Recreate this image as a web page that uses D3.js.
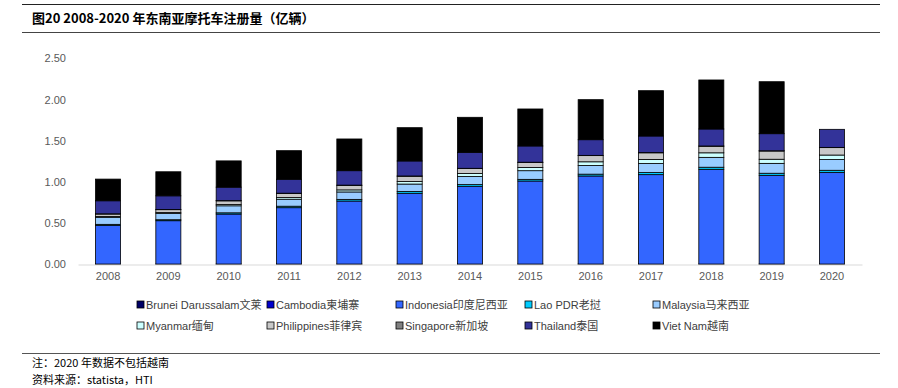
<!DOCTYPE html>
<html>
<head>
<meta charset="utf-8">
<script src="https://cdn.jsdelivr.net/npm/d3@7"></script>
<style>
  body { margin: 0; background: #fff; }
  svg { display: block; }
</style>
</head>
<body>
<div id="chart"></div>
<script>
// data (unit: 亿辆)
const years = ['2008','2009','2010','2011','2012','2013','2014','2015','2016','2017','2018','2019','2020'];
const countries = ['Brunei Darussalam文莱','Cambodia柬埔寨','Indonesia印度尼西亚','Lao PDR老挝','Malaysia马来西亚',
  'Myanmar缅甸','Philippines菲律宾','Singapore新加坡','Thailand泰国','Viet Nam越南'];
const colors = ['#000066','#0000cc','#3366ff','#00ccff','#99ccff','#ccffff','#c8c8c8','#808080','#333399','#000000'];

const brunei      = [0.001,0.001,0.001,0.001,0.001,0.001,0.001,0.001,0.001,0.001,0.001,0.001,0.001];
const cambodia    = [0.002,0.002,0.002,0.002,0.002,0.002,0.002,0.002,0.002,0.002,0.002,0.002,0.002];
const indonesia   = [0.470,0.526,0.607,0.684,0.765,0.859,0.944,1.008,1.069,1.085,1.150,1.077,1.113];
const lao         = [0.012,0.012,0.015,0.018,0.020,0.022,0.020,0.020,0.022,0.025,0.025,0.025,0.025];
const malaysia    = [0.085,0.075,0.085,0.085,0.090,0.090,0.100,0.105,0.105,0.110,0.120,0.120,0.130];
const myanmar     = [0.010,0.012,0.015,0.020,0.025,0.030,0.035,0.040,0.045,0.050,0.055,0.050,0.055];
const philippines = [0.030,0.035,0.045,0.050,0.055,0.065,0.060,0.060,0.075,0.080,0.080,0.100,0.090];
const singapore   = [0.003,0.003,0.003,0.003,0.003,0.003,0.003,0.003,0.003,0.003,0.003,0.003,0.003];
const thailand    = [0.158,0.165,0.163,0.169,0.175,0.182,0.194,0.197,0.190,0.201,0.206,0.207,0.219];
const vietnam     = [0.263,0.292,0.319,0.347,0.385,0.404,0.425,0.449,0.486,0.550,0.595,0.631,0];
const yTicks = [0, 0.5, 1, 1.5, 2, 2.5];

const series = [brunei, cambodia, indonesia, lao, malaysia, myanmar, philippines, singapore, thailand, vietnam];

const width = 898, height = 388;
const svg = d3.select('#chart').append('svg')
  .attr('width', width)
  .attr('height', height);

// title with rules
svg.append('line').attr('x1', 22).attr('x2', 880).attr('y1', 4.5).attr('y2', 4.5)
  .attr('stroke', '#222').attr('stroke-width', 1);
svg.append('line').attr('x1', 22).attr('x2', 880).attr('y1', 32.5).attr('y2', 32.5)
  .attr('stroke', '#444').attr('stroke-width', 1);
svg.append('text')
  .attr('x', 32).attr('y', 23)
  .attr('font-family', '"Noto Sans CJK SC", "Noto Sans", sans-serif')
  .attr('font-weight', 'bold')
  .attr('font-size', 13)
  .attr('fill', '#000')
  .text('图20 2008-2020 年东南亚摩托车注册量（亿辆）');

const x = d3.scaleBand().domain(years).range([78, 862]).paddingInner(0.585).paddingOuter(0.29);
const y = d3.scaleLinear().domain([0, 2.5]).range([264.3, 58.3]);

const table = years.map((yr, i) => {
  const row = { year: yr };
  countries.forEach((c, k) => { row[c] = series[k][i]; });
  return row;
});
const stacked = d3.stack().keys(countries)(table);

svg.append('g')
  .selectAll('g')
  .data(stacked)
  .join('g')
  .attr('fill', (d, i) => colors[i])
  .selectAll('rect')
  .data(d => d)
  .join('rect')
  .attr('x', d => x(d.data.year))
  .attr('y', d => y(d[1]))
  .attr('width', x.bandwidth())
  .attr('height', d => Math.max(0, y(d[0]) - y(d[1])))
  .attr('stroke', '#000')
  .attr('stroke-width', d => (d[1] - d[0]) > 0 ? 0.8 : 0);

// x axis
const xAxis = svg.append('g')
  .attr('transform', 'translate(0,264.5)')
  .call(d3.axisBottom(x).tickSize(0).tickPadding(8));
xAxis.select('.domain').attr('stroke', '#d9d9d9');
xAxis.selectAll('text')
  .attr('font-family', '"Liberation Sans", Arial, sans-serif')
  .attr('font-size', 11)
  .attr('fill', '#595959');

// y axis
const yAxis = svg.append('g')
  .attr('transform', 'translate(66,0)')
  .call(d3.axisLeft(y).tickValues(yTicks).tickFormat(d3.format('.2f')).tickSize(0).tickPadding(0));
yAxis.select('.domain').remove();
yAxis.selectAll('text')
  .attr('font-family', '"Liberation Sans", Arial, sans-serif')
  .attr('font-size', 11)
  .attr('fill', '#595959');

// legend
const legX = [137, 267, 396, 525, 653];
const legY = [305, 326];
const legend = svg.append('g')
  .selectAll('g')
  .data(countries)
  .join('g')
  .attr('transform', (d, i) => `translate(${legX[i % 5]},${legY[Math.floor(i / 5)]})`);
legend.append('rect')
  .attr('x', 0).attr('y', -4)
  .attr('width', 7).attr('height', 7)
  .attr('fill', (d, i) => colors[i])
  .attr('stroke', '#000').attr('stroke-width', 0.8);
legend.append('text')
  .attr('x', 9).attr('y', 4)
  .attr('font-family', '"Liberation Sans", Arial, "Noto Sans CJK SC", sans-serif')
  .attr('font-size', 11)
  .attr('fill', '#404040')
  .text(d => d);

// footer
svg.append('line').attr('x1', 22).attr('x2', 880).attr('y1', 353.5).attr('y2', 353.5)
  .attr('stroke', '#555').attr('stroke-width', 1);
const foot = ['注：2020 年数据不包括越南', '资料来源：statista，HTI'];
svg.append('g')
  .selectAll('text')
  .data(foot)
  .join('text')
  .attr('x', 32)
  .attr('y', (d, i) => 367 + i * 17)
  .attr('font-family', '"Noto Sans CJK SC", sans-serif')
  .attr('font-size', 11)
  .attr('fill', '#000')
  .text(d => d);
</script>
</body>
</html>
